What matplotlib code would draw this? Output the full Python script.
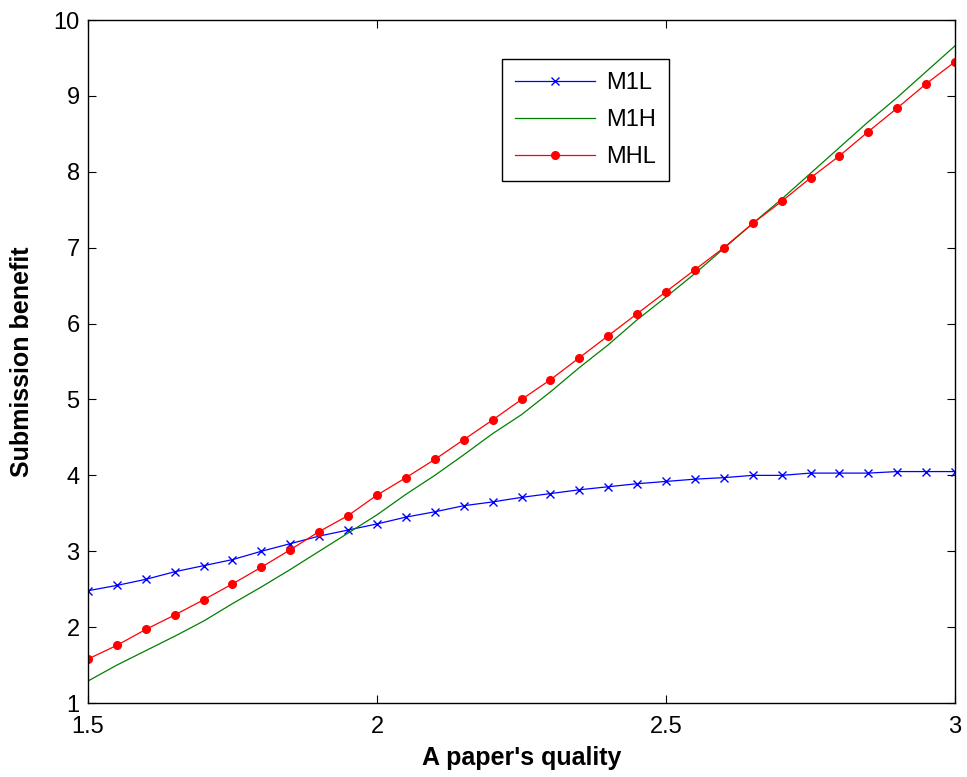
import numpy as np
import matplotlib
matplotlib.use("Agg")
import matplotlib.pyplot as plt

plt.rcParams['font.family'] = ['Liberation Sans', 'DejaVu Sans']

x = [1.50, 1.55, 1.60, 1.65, 1.70, 1.75, 1.80, 1.85, 1.90, 1.95,
     2.00, 2.05, 2.10, 2.15, 2.20, 2.25, 2.30, 2.35, 2.40, 2.45,
     2.50, 2.55, 2.60, 2.65, 2.70, 2.75, 2.80, 2.85, 2.90, 2.95, 3.00]

m1l = [2.48, 2.55, 2.63, 2.73, 2.81, 2.89, 3.00, 3.10, 3.20, 3.28,
       3.36, 3.45, 3.52, 3.60, 3.65, 3.71, 3.76, 3.81, 3.85, 3.89,
       3.92, 3.95, 3.97, 4.00, 4.00, 4.03, 4.03, 4.03, 4.05, 4.05, 4.05]

m1h = [1.29, 1.50, 1.69, 1.88, 2.08, 2.31, 2.53, 2.76, 3.00, 3.24,
       3.48, 3.75, 4.00, 4.27, 4.55, 4.80, 5.10, 5.42, 5.72, 6.05,
       6.35, 6.66, 6.99, 7.32, 7.64, 7.98, 8.32, 8.66, 8.98, 9.32, 9.66]

mhl = [1.58, 1.76, 1.97, 2.16, 2.36, 2.57, 2.79, 3.02, 3.26, 3.47,
       3.74, 3.97, 4.21, 4.47, 4.73, 5.00, 5.26, 5.55, 5.84, 6.13,
       6.42, 6.71, 7.00, 7.32, 7.61, 7.92, 8.21, 8.53, 8.84, 9.16, 9.45]

xticks = [1.5, 2, 2.5, 3]
xtick_labels = ['1.5', '2', '2.5', '3']
yticks = [1, 2, 3, 4, 5, 6, 7, 8, 9, 10]

fig = plt.figure(figsize=(9.67, 7.77), dpi=100)
ax = fig.add_axes([0.091, 0.0952, 0.8966, 0.879])

ax.plot(x, m1l, color='blue', lw=0.9, marker='x', ms=6, mew=1.0, label='M1L')
ax.plot(x, m1h, color='green', lw=0.9, label='M1H')
ax.plot(x, mhl, color='red', lw=0.9, marker='o', ms=5.5, label='MHL')

ax.set_xlim(1.5, 3)
ax.set_ylim(1, 10)
ax.set_xticks(xticks)
ax.set_xticklabels(xtick_labels)
ax.set_yticks(yticks)
ax.tick_params(direction='in', top=True, right=True, labelsize=17, length=6, width=0.8)
ax.tick_params(axis='y', pad=6)
ax.tick_params(axis='x', pad=9)
for s in ax.spines.values():
    s.set_linewidth(1.0)

ax.set_xlabel("A paper's quality", fontsize=18, fontweight='bold', labelpad=6)
ax.set_ylabel("Submission benefit", fontsize=18, fontweight='bold', labelpad=14)

leg = ax.legend(loc='upper left', bbox_to_anchor=(0.4775, 0.943), fontsize=17,
                fancybox=False, framealpha=1, edgecolor='black',
                handlelength=3.4, handletextpad=0.45, borderpad=0.55,
                labelspacing=0.64, borderaxespad=0)
leg.get_frame().set_linewidth(1.0)

fig.savefig('out.png', dpi=100)
